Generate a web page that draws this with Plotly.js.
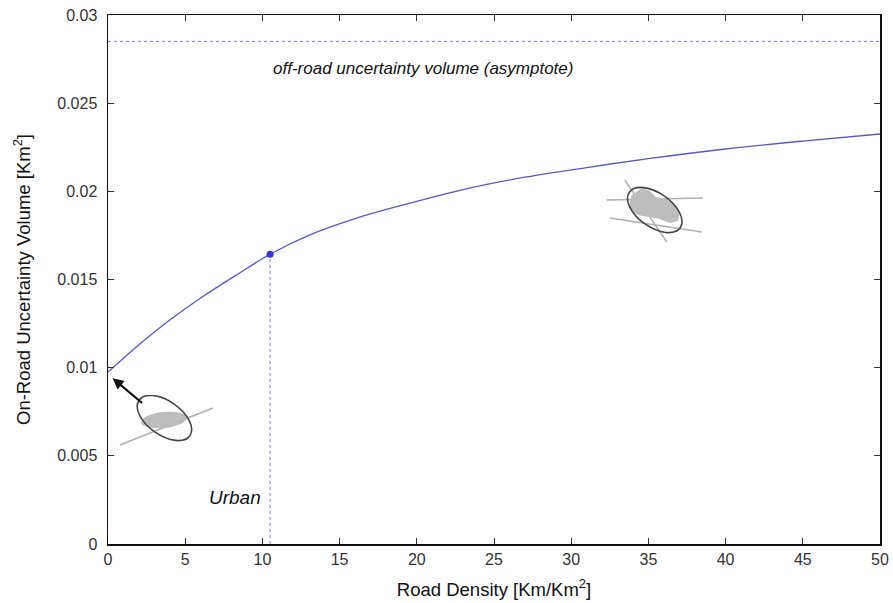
<!DOCTYPE html>
<html>
<head>
<meta charset="utf-8">
<script src="https://cdn.plot.ly/plotly-3.0.1.min.js"></script>
<style>html,body{margin:0;padding:0;background:#fff;}#chart{width:893px;height:603px;}</style>
</head>
<body>
<div id="chart"></div>
<script>
// Data
const roadDensity = [0, 2, 4, 6, 8.4, 10.5, 13, 16, 19, 23, 27, 31, 35, 40, 45, 50];
const onRoadVolume = [0.00975, 0.0113, 0.0127, 0.01395, 0.0153, 0.01643, 0.0175, 0.01845, 0.0192, 0.0201, 0.0208, 0.02135, 0.02185, 0.0224, 0.02285, 0.02325];
const offRoadAsymptote = 0.0285;
const urbanDensity = [10.5];
const urbanVolume = [0.01643];
const xTickVals = [0, 5, 10, 15, 20, 25, 30, 35, 40, 45, 50];
const yTickVals = [0, 0.005, 0.01, 0.015, 0.02, 0.025, 0.03];
const yTickText = ['0', '0.005', '0.01', '0.015', '0.02', '0.025', '0.03'];

function svgUri(s){ return 'data:image/svg+xml;charset=utf-8,' + encodeURIComponent(s); }

const leftIcon = svgUri(
 '<svg xmlns="http://www.w3.org/2000/svg" width="100" height="55" viewBox="0 0 100 55">' +
 '<line x1="5" y1="50" x2="98" y2="13" stroke="#b0b0b0" stroke-width="1.5"/>' +
 '<ellipse cx="49" cy="25" rx="23" ry="8" transform="rotate(-6 49 25)" fill="#bdbdbd"/>' +
 '<ellipse cx="49.5" cy="23" rx="31" ry="17" transform="rotate(35 49.5 23)" fill="none" stroke="#444" stroke-width="1.6"/>' +
 '</svg>');

const rightIcon = svgUri(
 '<svg xmlns="http://www.w3.org/2000/svg" width="110" height="70" viewBox="0 0 110 70">' +
 '<g stroke="#b0b0b0" stroke-width="1.5" fill="none">' +
 '<line x1="7" y1="25" x2="103" y2="23"/>' +
 '<line x1="10" y1="43" x2="102" y2="57"/>' +
 '<line x1="25" y1="5" x2="67" y2="67"/>' +
 '</g>' +
 '<polygon points="32,20 42,13 50,16 56,22 66,24 76,30 80,38 78,46 70,48 60,44 48,42 38,40 30,34 30,26" fill="#bdbdbd"/>' +
 '<ellipse cx="55" cy="35" rx="31" ry="17" transform="rotate(35 55 35)" fill="none" stroke="#444" stroke-width="1.6"/>' +
 '</svg>');

const traces = [
 {x: roadDensity, y: onRoadVolume, type: 'scatter', mode: 'lines',
  line: {color: '#5858c8', width: 1.3, shape: 'spline', smoothing: 1}, hoverinfo: 'skip'},
 {x: [urbanDensity[0], urbanDensity[0]], y: [0, urbanVolume[0]], type: 'scatter', mode: 'lines',
  line: {color: '#7a7ae6', width: 1, dash: 'dot'}, hoverinfo: 'skip'},
 {x: [0, 50], y: [offRoadAsymptote, offRoadAsymptote], type: 'scatter', mode: 'lines',
  line: {color: '#7a7ae6', width: 1, dash: 'dot'}, hoverinfo: 'skip'},
 {x: urbanDensity, y: urbanVolume, type: 'scatter', mode: 'markers',
  marker: {color: '#3535d8', size: 7}, hoverinfo: 'skip'}
];

const axisCommon = {
 showline: true, linecolor: '#111', linewidth: 1.5, mirror: 'ticks',
 ticks: 'inside', ticklen: 6, tickcolor: '#333', tickwidth: 1,
 showgrid: false, zeroline: false,
 tickfont: {family: 'Liberation Sans, Arial, sans-serif', size: 16, color: '#333'}
};

const layout = {
 width: 893, height: 603,
 margin: {l: 108, r: 13, t: 15, b: 59},
 paper_bgcolor: '#fff', plot_bgcolor: '#fff',
 showlegend: false,
 xaxis: Object.assign({}, axisCommon, {
  range: [0, 50], tickvals: xTickVals,
  title: {text: 'Road Density [Km/Km<sup>2</sup>]', standoff: 16,
   font: {family: 'Liberation Sans, Arial, sans-serif', size: 18.5, color: '#111'}}
 }),
 yaxis: Object.assign({}, axisCommon, {
  range: [0, 0.03], tickvals: yTickVals, ticktext: yTickText, ticklabelstandoff: 6,
  title: {text: 'On-Road Uncertainty Volume [Km<sup>2</sup>]', standoff: 22,
   font: {family: 'Liberation Sans, Arial, sans-serif', size: 18.5, color: '#111'}}
 }),
 annotations: [
  {x: 20.4, y: 0.02697, xref: 'x', yref: 'y', text: '<i>off-road uncertainty volume (asymptote)</i>',
   showarrow: false, font: {family: 'Liberation Sans, Arial, sans-serif', size: 17, color: '#111'}},
  {x: 8.2, y: 0.00266, xref: 'x', yref: 'y', text: '<i>Urban</i>',
   showarrow: false, font: {family: 'Liberation Sans, Arial, sans-serif', size: 19, color: '#111'}},
  {x: 0.3, y: 0.0094, xref: 'x', yref: 'y', text: '', showarrow: true,
   ax: 31, ay: 26, arrowhead: 2, arrowsize: 1, arrowwidth: 2.2, arrowcolor: '#111'}
 ],
 images: [
  {source: leftIcon, xref: 'paper', yref: 'paper', x: 0.009, y: 0.2817, sizex: 0.1295, sizey: 0.104,
   xanchor: 'left', yanchor: 'top', sizing: 'stretch', layer: 'above'},
  {source: rightIcon, xref: 'paper', yref: 'paper', x: 0.637, y: 0.6975, sizex: 0.1425, sizey: 0.1323,
   xanchor: 'left', yanchor: 'top', sizing: 'stretch', layer: 'above'}
 ]
};

Plotly.newPlot('chart', traces, layout, {staticPlot: true, displayModeBar: false});
</script>
</body>
</html>
